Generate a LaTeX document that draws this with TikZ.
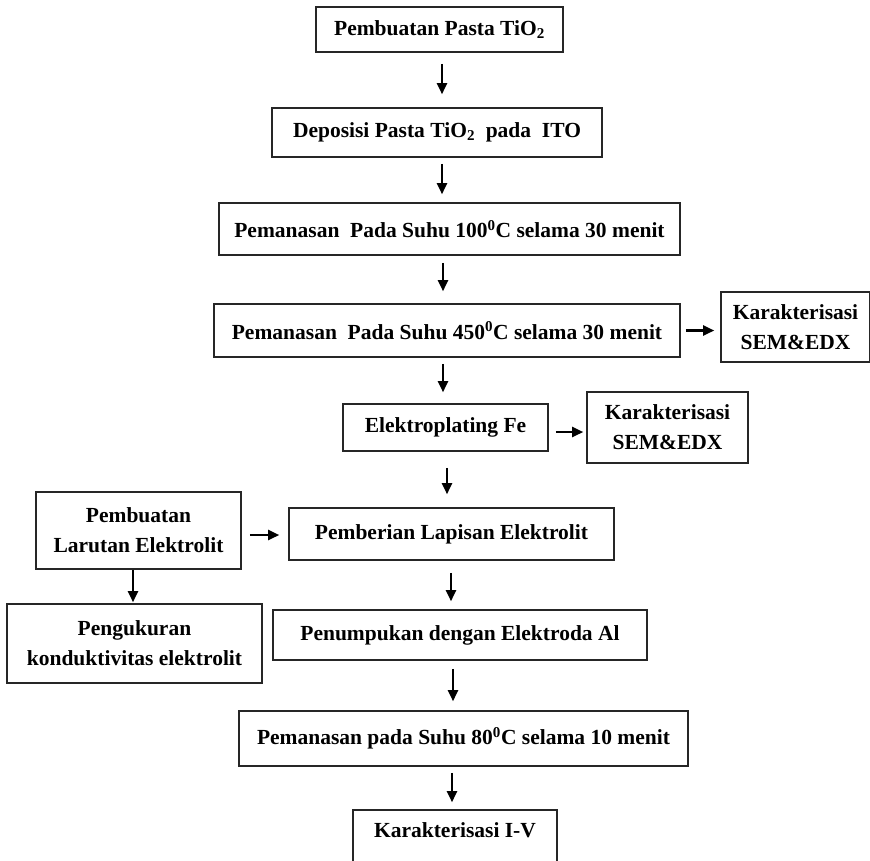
\documentclass[tikz,border=0pt]{standalone}
\usepackage{fontspec}
\setmainfont{Liberation Serif}
\usetikzlibrary{arrows.meta}
\newcommand\bx[6]{\node[box, minimum width={(#4-#2)*1pt}, minimum height={(#5-#3)*1pt}] (#1) at ({(#2+#4)/2},{(#3+#5)/2}) {#6};}
\begin{document}
\begin{tikzpicture}[x=1pt,y=-1pt,
  box/.style={draw=black!85, line width=1.6pt, inner sep=0pt, align=center,
    font=\fontsize{21.5}{30}\selectfont\bfseries},
  arr/.style={-{Triangle[length=11pt,width=10pt]}, line width=2.2pt}]
\useasboundingbox (0,0) rectangle (870,860);
\bx{b1}{316}{7}{563}{52}{Pembuatan Pasta TiO\textsubscript{2}}
\bx{b2}{272}{108}{602}{157}{Deposisi Pasta TiO\textsubscript{2}\ \ pada\ \ ITO}
\bx{b3}{219}{203}{680}{255}{Pemanasan\ \ Pada Suhu 100\textsuperscript{0}C selama 30 menit}
\bx{b4}{214}{304}{680}{357}{Pemanasan\ \ Pada Suhu 450\textsuperscript{0}C selama 30 menit}
\bx{k1}{721}{292}{870}{362}{Karakterisasi\\SEM\&EDX}
\bx{b5}{343}{404}{548}{451}{Elektroplating Fe}
\bx{k2}{587}{392}{748}{463}{Karakterisasi\\SEM\&EDX}
\bx{l1}{36}{492}{241}{569}{Pembuatan\\Larutan Elektrolit}
\bx{p}{289}{508}{614}{560}{Pemberian Lapisan Elektrolit}
\bx{l2}{7}{604}{262}{683}{Pengukuran\\konduktivitas elektrolit}
\bx{q}{273}{610}{647}{660}{Penumpukan dengan Elektroda Al}
\bx{r}{239}{711}{688}{766}{Pemanasan pada Suhu 80\textsuperscript{0}C selama 10 menit}
\node[box, minimum width=204pt, minimum height=56pt, text depth=16pt] (s) at (455,838) {Karakterisasi I-V};
% vertical arrows
\draw[arr, shorten <=11pt, shorten >=13pt] ([xshift=2.5pt]b1.south) -- ([xshift=2.5pt]b1.south |- b2.north);
\draw[arr, shorten <=6pt, shorten >=8pt] ([xshift=5pt]b2.south) -- ([xshift=5pt]b2.south |- b3.north);
\draw[arr, shorten <=7pt, shorten >=12pt] ([xshift=-6.5pt]b3.south) -- ([xshift=-6.5pt]b3.south |- b4.north);
\draw[arr, shorten <=6pt, shorten >=11pt] ([xshift=-4pt]b4.south) -- ([xshift=-4pt]b4.south |- b5.north);
\draw[arr, shorten <=16pt, shorten >=13pt] ([xshift=1.5pt]b5.south) -- ([xshift=1.5pt]b5.south |- p.north);
\draw[arr, shorten <=12pt, shorten >=8pt] ([xshift=-0.5pt]p.south) -- ([xshift=-0.5pt]p.south |- q.north);
\draw[arr, shorten <=8pt, shorten >=9pt] ([xshift=-7pt]q.south) -- ([xshift=-7pt]q.south |- r.north);
\draw[arr, shorten <=6pt, shorten >=7pt] ([xshift=-11.5pt]r.south) -- ([xshift=-11.5pt]r.south |- s.north);
\draw[arr, shorten <=0pt, shorten >=1pt] ([xshift=-5.5pt]l1.south) -- ([xshift=-5.5pt]l1.south |- l2.north);
% horizontal arrows
\draw[arr, shorten <=5pt, shorten >=6pt] (b4.east) -- (b4.east -| k1.west);
\draw[arr, shorten <=7pt, shorten >=3pt] ([yshift=-4.5pt]b5.east) -- ([yshift=-4.5pt]b5.east -| k2.west);
\draw[arr, shorten <=8pt, shorten >=9pt] ([yshift=-4.5pt]l1.east) -- ([yshift=-4.5pt]l1.east -| p.west);
\end{tikzpicture}
\end{document}
